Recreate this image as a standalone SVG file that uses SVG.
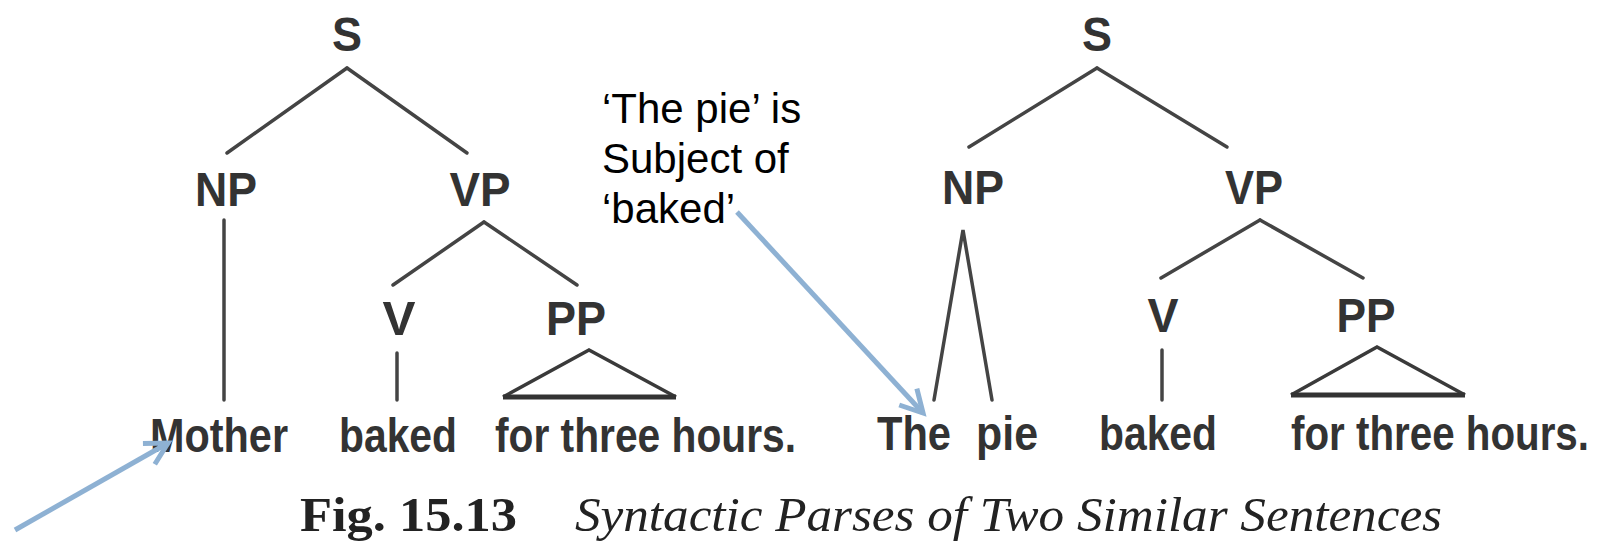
<svg xmlns="http://www.w3.org/2000/svg" width="1602" height="543" viewBox="0 0 1602 543">
<style>
.lbl{font-family:"Liberation Sans",Arial,sans-serif;font-size:48px;font-weight:bold;fill:#333;text-anchor:middle}
.wd{font-family:"Liberation Sans",Arial,sans-serif;font-size:48px;font-weight:bold;fill:#333}
.ln{stroke:#444;stroke-width:3.5;fill:none;stroke-linecap:round}
.tri{stroke:#3a3a3a;stroke-width:3.5;fill:none;stroke-linejoin:miter}
.base{stroke:#333;stroke-width:5}
.note{font-family:"Liberation Sans",Arial,sans-serif;font-size:42px;fill:#000}
.cap{font-family:"Liberation Serif","Times New Roman",serif;font-size:48px;fill:#222}
.arr{stroke:#8EB1D3;stroke-width:5;fill:none}
</style>
<defs>
<marker id="open" markerUnits="userSpaceOnUse" markerWidth="40" markerHeight="40" refX="0" refY="0" viewBox="-30 -20 40 40" orient="auto" overflow="visible">
<path d="M-22,-12 L0,0 L-22,12" fill="none" stroke="#8EB1D3" stroke-width="5" stroke-linejoin="miter"/>
</marker>
</defs>
<rect width="1602" height="543" fill="#fff"/>
<g id="connectors">
<line class="ln" x1="347" y1="68" x2="227" y2="153"/>
<line class="ln" x1="347" y1="68" x2="467" y2="153"/>
<line class="ln" x1="224" y1="220" x2="224" y2="400"/>
<line class="ln" x1="484" y1="222" x2="393" y2="285"/>
<line class="ln" x1="484" y1="222" x2="577" y2="285"/>
<line class="ln" x1="397" y1="353" x2="397" y2="400"/>
<line class="ln" x1="1097" y1="68" x2="969" y2="147"/>
<line class="ln" x1="1097" y1="68" x2="1227" y2="147"/>
<polyline class="ln" points="934,400 963,230 992,400"/>
<line class="ln" x1="1260" y1="220" x2="1161" y2="278"/>
<line class="ln" x1="1260" y1="220" x2="1363" y2="278"/>
<line class="ln" x1="1162" y1="350" x2="1162" y2="400"/>
</g>
<g id="tree1">
<g id="S1"><text class="lbl" x="347" y="51" textLength="30" lengthAdjust="spacingAndGlyphs">S</text></g>
<g id="NP1"><text class="lbl" x="226" y="206" textLength="62" lengthAdjust="spacingAndGlyphs">NP</text></g>
<g id="VP1"><text class="lbl" x="480" y="206" textLength="61" lengthAdjust="spacingAndGlyphs">VP</text></g>
<g id="V1"><text class="lbl" x="399" y="335" textLength="33" lengthAdjust="spacingAndGlyphs">V</text></g>
<g id="PP1"><text class="lbl" x="576" y="335" textLength="60" lengthAdjust="spacingAndGlyphs">PP</text>
<polyline class="tri" points="503,397 589,350 676,397"/><line class="base" x1="503" y1="397" x2="676" y2="397"/></g>
<g id="w_mother"><text class="wd" x="150" y="452" textLength="138" lengthAdjust="spacingAndGlyphs">Mother</text></g>
<g id="w_baked1"><text class="wd" x="339" y="452" textLength="118" lengthAdjust="spacingAndGlyphs">baked</text></g>
<g id="w_for1"><text class="wd" x="495" y="452" textLength="301" lengthAdjust="spacingAndGlyphs">for three hours.</text></g>
</g>
<g id="tree2">
<g id="S2"><text class="lbl" x="1097" y="51" textLength="30" lengthAdjust="spacingAndGlyphs">S</text></g>
<g id="NP2"><text class="lbl" x="973" y="204" textLength="62" lengthAdjust="spacingAndGlyphs">NP</text></g>
<g id="VP2"><text class="lbl" x="1254" y="204" textLength="58" lengthAdjust="spacingAndGlyphs">VP</text></g>
<g id="V2"><text class="lbl" x="1163" y="332" textLength="31" lengthAdjust="spacingAndGlyphs">V</text></g>
<g id="PP2"><text class="lbl" x="1366" y="332" textLength="59" lengthAdjust="spacingAndGlyphs">PP</text>
<polyline class="tri" points="1291,395 1377,347 1465,395"/><line class="base" x1="1291" y1="395" x2="1465" y2="395"/></g>
<g id="w_the"><text class="wd" x="877" y="450" textLength="74" lengthAdjust="spacingAndGlyphs">The</text></g>
<g id="w_pie"><text class="wd" x="976" y="450" textLength="62" lengthAdjust="spacingAndGlyphs">pie</text></g>
<g id="w_baked2"><text class="wd" x="1099" y="450" textLength="118" lengthAdjust="spacingAndGlyphs">baked</text></g>
<g id="w_for2"><text class="wd" x="1291" y="450" textLength="298" lengthAdjust="spacingAndGlyphs">for three hours.</text></g>
</g>
<g id="note">
<text class="note" x="602" y="123">‘The pie’ is</text>
<text class="note" x="602" y="173">Subject of</text>
<text class="note" x="602" y="223">‘baked’</text>
</g>
<g id="arrows">
<line class="arr" x1="737" y1="212" x2="923" y2="413" marker-end="url(#open)"/>
<line class="arr" x1="15" y1="530" x2="168" y2="443" marker-end="url(#open)"/>
</g>
<g id="caption">
<text class="cap" x="300" y="531" font-weight="bold" textLength="217" lengthAdjust="spacingAndGlyphs">Fig. 15.13</text>
<text class="cap" x="575" y="531" font-style="italic" textLength="867" lengthAdjust="spacingAndGlyphs">Syntactic Parses of Two Similar Sentences</text>
</g>
</svg>
